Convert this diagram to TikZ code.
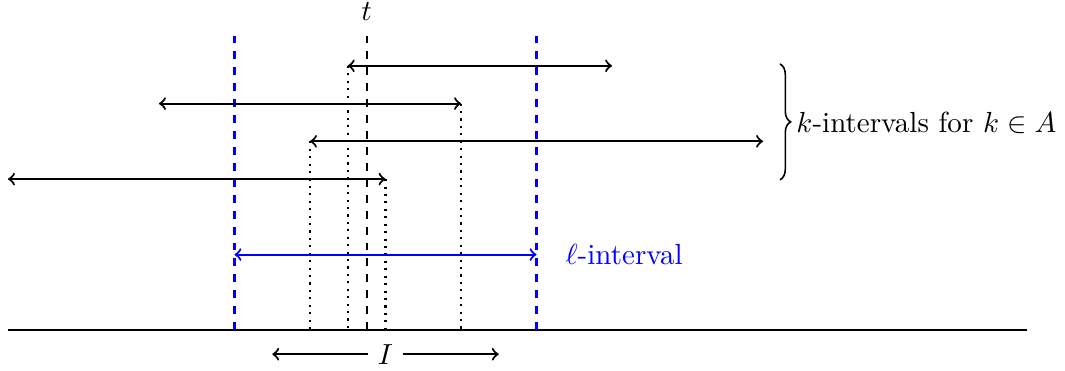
\documentclass[tikz,border=0pt,11pt]{standalone}
\usetikzlibrary{decorations.pathreplacing}
\tikzset{
  interval/.style={thick,<->},
  guide/.style={thick,dotted},
  marker/.style={thick,dashed},
  bracestyle/.style={line width=0.6pt,decorate,decoration={brace,amplitude=4pt}}
}
\begin{document}
\begin{tikzpicture}[x=0.5cm,y=0.5cm]
\useasboundingbox (-0.212,-1.06) rectangle (28.0,8.744);
% axis
\coordinate (a0) at (0,0);
\coordinate (a1) at (27,0);
\draw[thick] (a0) -- (a1);
% blue dashed lines
\coordinate (bl0) at (6,0);
\coordinate (bl1) at (6,7.8);
\coordinate (br0) at (14,0);
\coordinate (br1) at (14,7.8);
\draw[marker,blue] (bl0) -- (bl1);
\draw[marker,blue] (br0) -- (br1);
% t line
\coordinate (t0) at (9.5,0);
\coordinate (t1) at (9.5,7.8);
\draw[marker] (t0) -- (t1);
\node (tlab) at (9.5,8.45) {$t$};
% k-intervals
\coordinate (r1a) at (9,7);   \coordinate (r1b) at (16,7);   \coordinate (r1g) at (9,0);
\coordinate (r2a) at (4,6);   \coordinate (r2b) at (12,6);   \coordinate (r2g) at (12,0);
\coordinate (r3a) at (8,5);   \coordinate (r3b) at (20,5);   \coordinate (r3g) at (8,0);
\coordinate (r4a) at (0,4);   \coordinate (r4b) at (10,4);   \coordinate (r4g) at (10,0);
\draw[guide] (r1a) -- (r1g);
\draw[guide] (r2b) -- (r2g);
\draw[guide] (r3a) -- (r3g);
\draw[guide] (r4b) -- (r4g);
\draw[interval] (r1a) -- (r1b);
\draw[interval] (r2a) -- (r2b);
\draw[interval] (r3a) -- (r3b);
\draw[interval] (r4a) -- (r4b);
% brace
\coordinate (bt) at (20.45,7.05);
\coordinate (bb) at (20.45,3.98);
\coordinate (btip) at ([xshift=4pt]20.45,5.5);
\draw[bracestyle] (bt) -- (bb);
\node[right,inner sep=2pt] (klab) at (btip) {$k$-intervals for $k\in A$};
% l-interval
\coordinate (la) at (6,2);
\coordinate (lb) at (14,2);
\draw[interval,blue] (la) -- (lb);
\node[right,text=blue] (llab) at (14.5,2) {$\ell$-interval};
% I
\node (I) at (10,-0.64) {$I$};
\coordinate (Il) at (7,-0.64);
\coordinate (Ir) at (13,-0.64);
\draw[thick,->] (I.west) -- (Il);
\draw[thick,->] (I.east) -- (Ir);
\end{tikzpicture}
\end{document}
